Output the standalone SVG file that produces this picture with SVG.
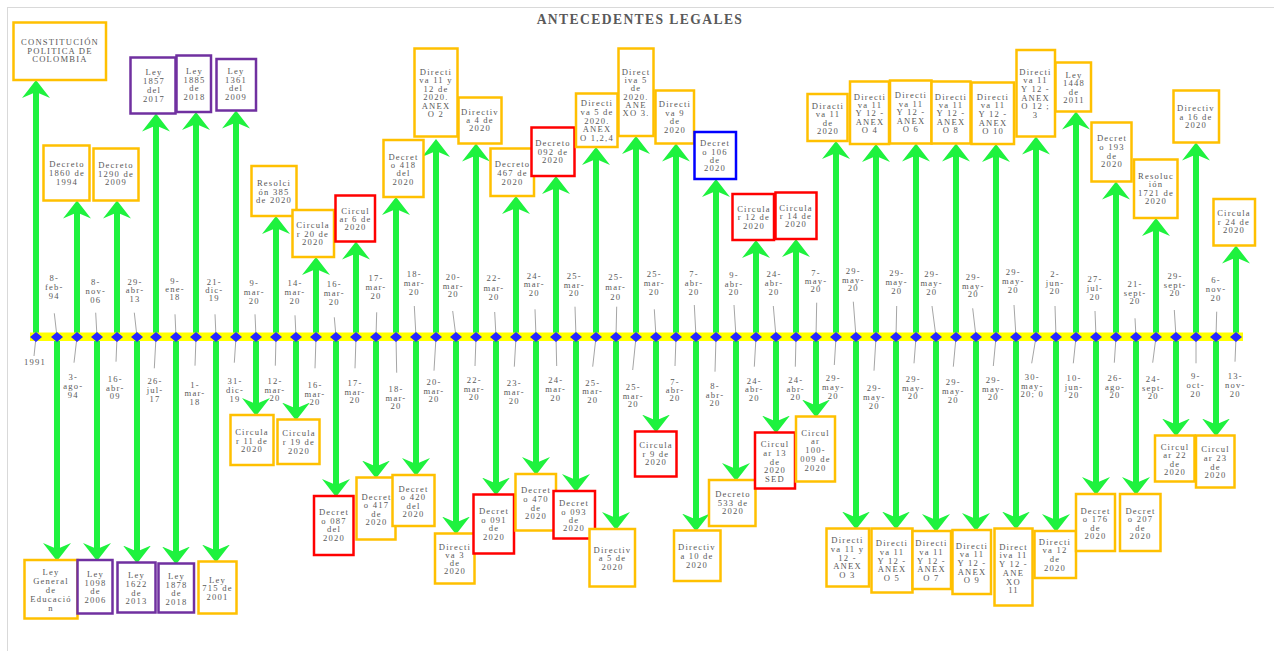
<svg xmlns="http://www.w3.org/2000/svg" width="1274" height="651" viewBox="0 0 1274 651">
<defs>
<marker id="ah" viewBox="0 0 18 28" markerWidth="18" markerHeight="28" markerUnits="userSpaceOnUse" refX="9" refY="14" orient="auto"><path d="M0,0 L18,14 L0,28 L6,14 Z" fill="#1ef23e"/></marker>
<style>
.cn line{stroke:#1ef23e;stroke-width:6;marker-end:url(#ah)}
.ld{stroke:#a6a6a6;stroke-width:1}
.dm{fill:#2626ff}
.bx{fill:#fff;stroke-width:2.5}
.o{stroke:#ffc000}.p{stroke:#7030a0}.r{stroke:#ff0000}.b{stroke:#0000ff}
text{font-family:"Liberation Serif","Times New Roman",serif;fill:#595959;text-anchor:middle}
.tx,.dl{font-size:8.6px;letter-spacing:1.2px}
.ttl{font-size:13.6px;font-weight:bold;letter-spacing:1.4px}
</style>
</defs>
<rect x="0" y="0" width="1274" height="651" fill="#fff"/>
<rect x="7.5" y="7.5" width="1290" height="660" fill="none" stroke="#d9d9d9" stroke-width="1"/>
<text class="ttl" x="640" y="24">ANTECEDENTES LEGALES</text>

<g id="connectors" class="cn">
<line x1="36" y1="337" x2="36" y2="89"/>
<line x1="57" y1="337" x2="57" y2="552"/>
<line x1="77" y1="337" x2="77" y2="209.5"/>
<line x1="97" y1="337" x2="97" y2="552"/>
<line x1="117" y1="337" x2="117" y2="209.5"/>
<line x1="137" y1="337" x2="137" y2="554.5"/>
<line x1="156" y1="337" x2="156" y2="122.5"/>
<line x1="176" y1="337" x2="176" y2="555.5"/>
<line x1="196" y1="337" x2="196" y2="121"/>
<line x1="216" y1="337" x2="216" y2="553.5"/>
<line x1="236" y1="337" x2="236" y2="119.5"/>
<line x1="256" y1="337" x2="256" y2="407"/>
<line x1="276" y1="337" x2="276" y2="225"/>
<line x1="296" y1="337" x2="296" y2="411.5"/>
<line x1="316" y1="337" x2="316" y2="266"/>
<line x1="336" y1="337" x2="336" y2="488"/>
<line x1="356" y1="337" x2="356" y2="250.5"/>
<line x1="376" y1="337" x2="376" y2="469.5"/>
<line x1="396" y1="337" x2="396" y2="206"/>
<line x1="416" y1="337" x2="416" y2="467"/>
<line x1="436" y1="337" x2="436" y2="148"/>
<line x1="456" y1="337" x2="456" y2="525.5"/>
<line x1="476" y1="337" x2="476" y2="152.5"/>
<line x1="496" y1="337" x2="496" y2="486.5"/>
<line x1="516" y1="337" x2="516" y2="205"/>
<line x1="536" y1="337" x2="536" y2="466"/>
<line x1="556" y1="337" x2="556" y2="185"/>
<line x1="576" y1="337" x2="576" y2="483"/>
<line x1="596" y1="337" x2="596" y2="156"/>
<line x1="616" y1="337" x2="616" y2="521"/>
<line x1="636" y1="337" x2="636" y2="145"/>
<line x1="656" y1="337" x2="656" y2="423.5"/>
<line x1="676" y1="337" x2="676" y2="152.5"/>
<line x1="696" y1="337" x2="696" y2="522.5"/>
<line x1="716" y1="337" x2="716" y2="188"/>
<line x1="736" y1="337" x2="736" y2="472"/>
<line x1="756" y1="337" x2="756" y2="249"/>
<line x1="776" y1="337" x2="776" y2="424.5"/>
<line x1="796" y1="337" x2="796" y2="248"/>
<line x1="816" y1="337" x2="816" y2="408.5"/>
<line x1="836" y1="337" x2="836" y2="150"/>
<line x1="856" y1="337" x2="856" y2="520.5"/>
<line x1="876" y1="337" x2="876" y2="153"/>
<line x1="896" y1="337" x2="896" y2="520.5"/>
<line x1="916" y1="337" x2="916" y2="152.5"/>
<line x1="936" y1="337" x2="936" y2="523"/>
<line x1="956" y1="337" x2="956" y2="152.5"/>
<line x1="976" y1="337" x2="976" y2="522"/>
<line x1="996" y1="337" x2="996" y2="153"/>
<line x1="1016" y1="337" x2="1016" y2="520.5"/>
<line x1="1036" y1="337" x2="1036" y2="145.5"/>
<line x1="1056" y1="337" x2="1056" y2="523"/>
<line x1="1076" y1="337" x2="1076" y2="120.5"/>
<line x1="1096" y1="337" x2="1096" y2="486"/>
<line x1="1116" y1="337" x2="1116" y2="190.5"/>
<line x1="1136" y1="337" x2="1136" y2="486"/>
<line x1="1156" y1="337" x2="1156" y2="227"/>
<line x1="1176" y1="337" x2="1176" y2="427.5"/>
<line x1="1196" y1="337" x2="1196" y2="151.5"/>
<line x1="1216" y1="337" x2="1216" y2="427.5"/>
<line x1="1236" y1="337" x2="1236" y2="254.5"/>
</g>

<g id="timeline">
<rect x="30" y="332.5" width="1213" height="8.5" fill="#ffff00"/>
<g class="ld">
<line x1="36" y1="337" x2="34" y2="356"/>
<line x1="57" y1="337" x2="54.3" y2="313.3"/>
<line x1="77" y1="337" x2="74" y2="362.7"/>
<line x1="97" y1="337" x2="95.7" y2="312.7"/>
<line x1="117" y1="337" x2="116" y2="361.7"/>
<line x1="137" y1="337" x2="134.3" y2="312.7"/>
<line x1="156" y1="337" x2="154.3" y2="368.3"/>
<line x1="176" y1="337" x2="175" y2="314.3"/>
<line x1="196" y1="337" x2="195" y2="365.7"/>
<line x1="216" y1="337" x2="215" y2="314.3"/>
<line x1="236" y1="337" x2="234.3" y2="362.7"/>
<line x1="256" y1="337" x2="255" y2="314.3"/>
<line x1="276" y1="337" x2="275.3" y2="365.7"/>
<line x1="296" y1="337" x2="295" y2="315.3"/>
<line x1="316" y1="337" x2="315" y2="368.3"/>
<line x1="336" y1="337" x2="334.3" y2="317.3"/>
<line x1="356" y1="337" x2="355" y2="368.3"/>
<line x1="376" y1="337" x2="376.7" y2="312.3"/>
<line x1="396" y1="337" x2="396.7" y2="372.7"/>
<line x1="416" y1="337" x2="414.3" y2="306"/>
<line x1="436" y1="337" x2="434" y2="370.7"/>
<line x1="456" y1="337" x2="452.7" y2="311"/>
<line x1="476" y1="337" x2="475" y2="366"/>
<line x1="496" y1="337" x2="494.7" y2="312"/>
<line x1="516" y1="337" x2="514.3" y2="366.7"/>
<line x1="536" y1="337" x2="535" y2="309.3"/>
<line x1="556" y1="337" x2="556.7" y2="366"/>
<line x1="576" y1="337" x2="575" y2="306.7"/>
<line x1="596" y1="337" x2="592.7" y2="366.7"/>
<line x1="616" y1="337" x2="616.7" y2="306.7"/>
<line x1="636" y1="337" x2="632.7" y2="370"/>
<line x1="656" y1="337" x2="654.3" y2="309.3"/>
<line x1="676" y1="337" x2="675" y2="366"/>
<line x1="696" y1="337" x2="694.3" y2="305"/>
<line x1="716" y1="337" x2="715" y2="371.7"/>
<line x1="736" y1="337" x2="734" y2="305"/>
<line x1="756" y1="337" x2="754.3" y2="366.7"/>
<line x1="776" y1="337" x2="773.3" y2="306"/>
<line x1="796" y1="337" x2="795.3" y2="366.7"/>
<line x1="816" y1="337" x2="816.7" y2="302.7"/>
<line x1="836" y1="337" x2="834.3" y2="365"/>
<line x1="856" y1="337" x2="853.3" y2="301.7"/>
<line x1="876" y1="337" x2="874" y2="370.7"/>
<line x1="896" y1="337" x2="896.7" y2="306"/>
<line x1="916" y1="337" x2="914" y2="363.3"/>
<line x1="936" y1="337" x2="932" y2="306"/>
<line x1="956" y1="337" x2="953.3" y2="366.7"/>
<line x1="976" y1="337" x2="972.7" y2="308.3"/>
<line x1="996" y1="337" x2="993.3" y2="366"/>
<line x1="1016" y1="337" x2="1014" y2="305"/>
<line x1="1036" y1="337" x2="1031.7" y2="363.3"/>
<line x1="1056" y1="337" x2="1055" y2="306"/>
<line x1="1076" y1="337" x2="1073.3" y2="363.3"/>
<line x1="1096" y1="337" x2="1095" y2="311"/>
<line x1="1116" y1="337" x2="1114.3" y2="362.7"/>
<line x1="1136" y1="337" x2="1135" y2="318.3"/>
<line x1="1156" y1="337" x2="1152.7" y2="362.7"/>
<line x1="1176" y1="337" x2="1174.3" y2="310"/>
<line x1="1196" y1="337" x2="1196" y2="363.3"/>
<line x1="1216" y1="337" x2="1216.7" y2="311.7"/>
<line x1="1236" y1="337" x2="1235" y2="361.7"/>
</g>
<g class="dm">
<path d="M30,337l6,-5l6,5l-6,5zM51,337l6,-5l6,5l-6,5zM71,337l6,-5l6,5l-6,5zM91,337l6,-5l6,5l-6,5zM111,337l6,-5l6,5l-6,5zM131,337l6,-5l6,5l-6,5zM150,337l6,-5l6,5l-6,5zM170,337l6,-5l6,5l-6,5zM190,337l6,-5l6,5l-6,5zM210,337l6,-5l6,5l-6,5z"/>
<path d="M230,337l6,-5l6,5l-6,5zM250,337l6,-5l6,5l-6,5zM270,337l6,-5l6,5l-6,5zM290,337l6,-5l6,5l-6,5zM310,337l6,-5l6,5l-6,5zM330,337l6,-5l6,5l-6,5zM350,337l6,-5l6,5l-6,5zM370,337l6,-5l6,5l-6,5zM390,337l6,-5l6,5l-6,5zM410,337l6,-5l6,5l-6,5z"/>
<path d="M430,337l6,-5l6,5l-6,5zM450,337l6,-5l6,5l-6,5zM470,337l6,-5l6,5l-6,5zM490,337l6,-5l6,5l-6,5zM510,337l6,-5l6,5l-6,5zM530,337l6,-5l6,5l-6,5zM550,337l6,-5l6,5l-6,5zM570,337l6,-5l6,5l-6,5zM590,337l6,-5l6,5l-6,5zM610,337l6,-5l6,5l-6,5z"/>
<path d="M630,337l6,-5l6,5l-6,5zM650,337l6,-5l6,5l-6,5zM670,337l6,-5l6,5l-6,5zM690,337l6,-5l6,5l-6,5zM710,337l6,-5l6,5l-6,5zM730,337l6,-5l6,5l-6,5zM750,337l6,-5l6,5l-6,5zM770,337l6,-5l6,5l-6,5zM790,337l6,-5l6,5l-6,5zM810,337l6,-5l6,5l-6,5z"/>
<path d="M830,337l6,-5l6,5l-6,5zM850,337l6,-5l6,5l-6,5zM870,337l6,-5l6,5l-6,5zM890,337l6,-5l6,5l-6,5zM910,337l6,-5l6,5l-6,5zM930,337l6,-5l6,5l-6,5zM950,337l6,-5l6,5l-6,5zM970,337l6,-5l6,5l-6,5zM990,337l6,-5l6,5l-6,5zM1010,337l6,-5l6,5l-6,5z"/>
<path d="M1030,337l6,-5l6,5l-6,5zM1050,337l6,-5l6,5l-6,5zM1070,337l6,-5l6,5l-6,5zM1090,337l6,-5l6,5l-6,5zM1110,337l6,-5l6,5l-6,5zM1130,337l6,-5l6,5l-6,5zM1150,337l6,-5l6,5l-6,5zM1170,337l6,-5l6,5l-6,5zM1190,337l6,-5l6,5l-6,5zM1210,337l6,-5l6,5l-6,5zM1230,337l6,-5l6,5l-6,5z"/>
</g>
<g id="dates">
<text class="dl" x="35" y="364.7">1991</text>
<text class="dl" y="281.3"><tspan x="54.3">8-</tspan><tspan x="54.3" dy="8.8">feb-</tspan><tspan x="54.3" dy="8.8">94</tspan></text>
<text class="dl" y="380.3"><tspan x="73.3">3-</tspan><tspan x="73.3" dy="8.8">ago-</tspan><tspan x="73.3" dy="8.8">94</tspan></text>
<text class="dl" y="285.3"><tspan x="95.7">8-</tspan><tspan x="95.7" dy="8.8">nov-</tspan><tspan x="95.7" dy="8.8">06</tspan></text>
<text class="dl" y="382"><tspan x="115.3">16-</tspan><tspan x="115.3" dy="8.6">abr-</tspan><tspan x="115.3" dy="8.6">09</tspan></text>
<text class="dl" y="284.7"><tspan x="135">29-</tspan><tspan x="135" dy="8.4">abr-</tspan><tspan x="135" dy="8.4">13</tspan></text>
<text class="dl" y="384"><tspan x="155">26-</tspan><tspan x="155" dy="9.2">jul-</tspan><tspan x="155" dy="9.2">17</tspan></text>
<text class="dl" y="283.7"><tspan x="175">9-</tspan><tspan x="175" dy="8.3">ene-</tspan><tspan x="175" dy="8.3">18</tspan></text>
<text class="dl" y="388"><tspan x="195">1-</tspan><tspan x="195" dy="8.4">mar-</tspan><tspan x="195" dy="8.4">18</tspan></text>
<text class="dl" y="284.7"><tspan x="214.3">21-</tspan><tspan x="214.3" dy="8.3">dic-</tspan><tspan x="214.3" dy="8.3">19</tspan></text>
<text class="dl" y="383.7"><tspan x="235">31-</tspan><tspan x="235" dy="9">dic-</tspan><tspan x="235" dy="9">19</tspan></text>
<text class="dl" y="285.7"><tspan x="254.3">9-</tspan><tspan x="254.3" dy="9">mar-</tspan><tspan x="254.3" dy="9">20</tspan></text>
<text class="dl" y="384"><tspan x="275">12-</tspan><tspan x="275" dy="8.5">mar-</tspan><tspan x="275" dy="8.5">20</tspan></text>
<text class="dl" y="286.3"><tspan x="295">14-</tspan><tspan x="295" dy="8.7">mar-</tspan><tspan x="295" dy="8.7">20</tspan></text>
<text class="dl" y="388"><tspan x="315">16-</tspan><tspan x="315" dy="8.7">mar-</tspan><tspan x="315" dy="8.7">20</tspan></text>
<text class="dl" y="287"><tspan x="334.3">16-</tspan><tspan x="334.3" dy="9.2">mar-</tspan><tspan x="334.3" dy="9.2">20</tspan></text>
<text class="dl" y="386.3"><tspan x="355">17-</tspan><tspan x="355" dy="8.5">mar-</tspan><tspan x="355" dy="8.5">20</tspan></text>
<text class="dl" y="281.3"><tspan x="376">17-</tspan><tspan x="376" dy="8.8">mar-</tspan><tspan x="376" dy="8.8">20</tspan></text>
<text class="dl" y="392"><tspan x="396">18-</tspan><tspan x="396" dy="8.5">mar-</tspan><tspan x="396" dy="8.5">20</tspan></text>
<text class="dl" y="277"><tspan x="414.3">18-</tspan><tspan x="414.3" dy="8.8">mar-</tspan><tspan x="414.3" dy="8.8">20</tspan></text>
<text class="dl" y="384.7"><tspan x="434">20-</tspan><tspan x="434" dy="8.8">mar-</tspan><tspan x="434" dy="8.8">20</tspan></text>
<text class="dl" y="279.7"><tspan x="453.3">20-</tspan><tspan x="453.3" dy="8.8">mar-</tspan><tspan x="453.3" dy="8.8">20</tspan></text>
<text class="dl" y="383"><tspan x="474.3">22-</tspan><tspan x="474.3" dy="8.7">mar-</tspan><tspan x="474.3" dy="8.7">20</tspan></text>
<text class="dl" y="281.3"><tspan x="494">22-</tspan><tspan x="494" dy="9.2">mar-</tspan><tspan x="494" dy="9.2">20</tspan></text>
<text class="dl" y="385.7"><tspan x="514.3">23-</tspan><tspan x="514.3" dy="9">mar-</tspan><tspan x="514.3" dy="9">20</tspan></text>
<text class="dl" y="278.7"><tspan x="534.3">24-</tspan><tspan x="534.3" dy="8.5">mar-</tspan><tspan x="534.3" dy="8.5">20</tspan></text>
<text class="dl" y="383"><tspan x="555.7">24-</tspan><tspan x="555.7" dy="9">mar-</tspan><tspan x="555.7" dy="9">20</tspan></text>
<text class="dl" y="279"><tspan x="574.3">25-</tspan><tspan x="574.3" dy="8.7">mar-</tspan><tspan x="574.3" dy="8.7">20</tspan></text>
<text class="dl" y="385.7"><tspan x="592.7">25-</tspan><tspan x="592.7" dy="8.7">mar-</tspan><tspan x="592.7" dy="8.7">20</tspan></text>
<text class="dl" y="280.3"><tspan x="615.7">25-</tspan><tspan x="615.7" dy="9.7">mar-</tspan><tspan x="615.7" dy="9.7">20</tspan></text>
<text class="dl" y="390"><tspan x="633.3">25-</tspan><tspan x="633.3" dy="8.7">mar-</tspan><tspan x="633.3" dy="8.7">20</tspan></text>
<text class="dl" y="277.3"><tspan x="654.3">25-</tspan><tspan x="654.3" dy="8.7">mar-</tspan><tspan x="654.3" dy="8.7">20</tspan></text>
<text class="dl" y="384.7"><tspan x="675">7-</tspan><tspan x="675" dy="8.3">abr-</tspan><tspan x="675" dy="8.3">20</tspan></text>
<text class="dl" y="277.3"><tspan x="694">7-</tspan><tspan x="694" dy="8.7">abr-</tspan><tspan x="694" dy="8.7">20</tspan></text>
<text class="dl" y="389"><tspan x="715">8-</tspan><tspan x="715" dy="8.7">abr-</tspan><tspan x="715" dy="8.7">20</tspan></text>
<text class="dl" y="278"><tspan x="734">9-</tspan><tspan x="734" dy="8.7">abr-</tspan><tspan x="734" dy="8.7">20</tspan></text>
<text class="dl" y="383.7"><tspan x="754.3">24-</tspan><tspan x="754.3" dy="8.7">abr-</tspan><tspan x="754.3" dy="8.7">20</tspan></text>
<text class="dl" y="277.3"><tspan x="774">24-</tspan><tspan x="774" dy="8.7">abr-</tspan><tspan x="774" dy="8.7">20</tspan></text>
<text class="dl" y="383"><tspan x="795.7">24-</tspan><tspan x="795.7" dy="8.7">abr-</tspan><tspan x="795.7" dy="8.7">20</tspan></text>
<text class="dl" y="275.7"><tspan x="816">7-</tspan><tspan x="816" dy="8.2">may-</tspan><tspan x="816" dy="8.2">20</tspan></text>
<text class="dl" y="381.3"><tspan x="833.3">29-</tspan><tspan x="833.3" dy="8.7">may-</tspan><tspan x="833.3" dy="8.7">20</tspan></text>
<text class="dl" y="273.7"><tspan x="853.3">29-</tspan><tspan x="853.3" dy="8.8">may-</tspan><tspan x="853.3" dy="8.8">20</tspan></text>
<text class="dl" y="391.3"><tspan x="874.3">29-</tspan><tspan x="874.3" dy="8.8">may-</tspan><tspan x="874.3" dy="8.8">20</tspan></text>
<text class="dl" y="276.3"><tspan x="896.7">29-</tspan><tspan x="896.7" dy="8.8">may-</tspan><tspan x="896.7" dy="8.8">20</tspan></text>
<text class="dl" y="382"><tspan x="913.3">29-</tspan><tspan x="913.3" dy="8.5">may-</tspan><tspan x="913.3" dy="8.5">20</tspan></text>
<text class="dl" y="277.3"><tspan x="931.7">29-</tspan><tspan x="931.7" dy="8.7">may-</tspan><tspan x="931.7" dy="8.7">20</tspan></text>
<text class="dl" y="385.3"><tspan x="953.3">29-</tspan><tspan x="953.3" dy="8.8">may-</tspan><tspan x="953.3" dy="8.8">20</tspan></text>
<text class="dl" y="279.7"><tspan x="973.3">29-</tspan><tspan x="973.3" dy="8.8">may-</tspan><tspan x="973.3" dy="8.8">20</tspan></text>
<text class="dl" y="383"><tspan x="993.3">29-</tspan><tspan x="993.3" dy="8.7">may-</tspan><tspan x="993.3" dy="8.7">20</tspan></text>
<text class="dl" y="275.3"><tspan x="1013.3">29-</tspan><tspan x="1013.3" dy="8.8">may-</tspan><tspan x="1013.3" dy="8.8">20</tspan></text>
<text class="dl" y="380.3"><tspan x="1032.3">30-</tspan><tspan x="1032.3" dy="8.5">may-</tspan><tspan x="1032.3" dy="8.5">20; 0</tspan></text>
<text class="dl" y="277.3"><tspan x="1055">2-</tspan><tspan x="1055" dy="8.4">jun-</tspan><tspan x="1055" dy="8.4">20</tspan></text>
<text class="dl" y="381.3"><tspan x="1074">10-</tspan><tspan x="1074" dy="8.5">jun-</tspan><tspan x="1074" dy="8.5">20</tspan></text>
<text class="dl" y="282"><tspan x="1095">27-</tspan><tspan x="1095" dy="9.2">jul-</tspan><tspan x="1095" dy="9.2">20</tspan></text>
<text class="dl" y="381.3"><tspan x="1115">26-</tspan><tspan x="1115" dy="8.5">ago-</tspan><tspan x="1115" dy="8.5">20</tspan></text>
<text class="dl" y="287.3"><tspan x="1135">21-</tspan><tspan x="1135" dy="8.4">sept-</tspan><tspan x="1135" dy="8.4">20</tspan></text>
<text class="dl" y="382"><tspan x="1153.3">24-</tspan><tspan x="1153.3" dy="8.5">sept-</tspan><tspan x="1153.3" dy="8.5">20</tspan></text>
<text class="dl" y="279"><tspan x="1175">29-</tspan><tspan x="1175" dy="8.7">sept-</tspan><tspan x="1175" dy="8.7">20</tspan></text>
<text class="dl" y="379"><tspan x="1195.7">9-</tspan><tspan x="1195.7" dy="9">oct-</tspan><tspan x="1195.7" dy="9">20</tspan></text>
<text class="dl" y="283"><tspan x="1216">6-</tspan><tspan x="1216" dy="8.8">nov-</tspan><tspan x="1216" dy="8.8">20</tspan></text>
<text class="dl" y="379"><tspan x="1235.3">13-</tspan><tspan x="1235.3" dy="9">nov-</tspan><tspan x="1235.3" dy="9">20</tspan></text>
</g>
</g>

<!-- upper documents -->
<g id="n-constitucion"><rect class="bx o" x="13.5" y="22.5" width="92.5" height="57.5"/><text class="tx" y="45"><tspan x="60">CONSTITUCIÓN</tspan><tspan x="60" dy="8.5">POLITICA DE</tspan><tspan x="60" dy="8.5">COLOMBIA</tspan></text></g>
<g id="n-decreto-1860"><rect class="bx o" x="43.5" y="145.5" width="46" height="55"/><text class="tx" y="167"><tspan x="67">Decreto</tspan><tspan x="67" dy="9">1860 de</tspan><tspan x="67" dy="9">1994</tspan></text></g>
<g id="n-decreto-1290"><rect class="bx o" x="93.5" y="148.5" width="45" height="52"/><text class="tx" y="168"><tspan x="116">Decreto</tspan><tspan x="116" dy="8.5">1290 de</tspan><tspan x="116" dy="8.5">2009</tspan></text></g>
<g id="n-ley-1857"><rect class="bx p" x="130.5" y="57.5" width="45" height="56"/><text class="tx" y="75"><tspan x="154">Ley</tspan><tspan x="154" dy="9">1857</tspan><tspan x="154" dy="9">del</tspan><tspan x="154" dy="9">2017</tspan></text></g>
<g id="n-ley-1885"><rect class="bx p" x="176.5" y="55.5" width="34.5" height="56.5"/><text class="tx" y="74"><tspan x="194.5">Ley</tspan><tspan x="194.5" dy="8.7">1885</tspan><tspan x="194.5" dy="8.7">de</tspan><tspan x="194.5" dy="8.7">2018</tspan></text></g>
<g id="n-ley-1361"><rect class="bx p" x="216.5" y="59" width="39.5" height="51.5"/><text class="tx" y="74"><tspan x="236">Ley</tspan><tspan x="236" dy="8.7">1361</tspan><tspan x="236" dy="8.7">del</tspan><tspan x="236" dy="8.7">2009</tspan></text></g>
<g id="n-resolucion-385"><rect class="bx o" x="251.5" y="166" width="45" height="50"/><text class="tx" y="186"><tspan x="274">Resolci</tspan><tspan x="274" dy="8.5">ón 385</tspan><tspan x="274" dy="8.5">de 2020</tspan></text></g>
<g id="n-circular-20"><rect class="bx o" x="292.5" y="210" width="41.5" height="47"/><text class="tx" y="228"><tspan x="313">Circula</tspan><tspan x="313" dy="8.5">r 20 de</tspan><tspan x="313" dy="8.5">2020</tspan></text></g>
<g id="n-circular-6"><rect class="bx r" x="335.5" y="195.5" width="39.5" height="46"/><text class="tx" y="213.7"><tspan x="355.5">Circul</tspan><tspan x="355.5" dy="8.3">ar 6 de</tspan><tspan x="355.5" dy="8.3">2020</tspan></text></g>
<g id="n-decreto-418"><rect class="bx o" x="383.5" y="140" width="40" height="57"/><text class="tx" y="159.7"><tspan x="403.5">Decret</tspan><tspan x="403.5" dy="8.3">o 418</tspan><tspan x="403.5" dy="8.3">del</tspan><tspan x="403.5" dy="8.3">2020</tspan></text></g>
<g id="n-directiva-11-12-anexo2"><rect class="bx o" x="414.5" y="48.5" width="43" height="88"/><text class="tx" y="74.7"><tspan x="436">Directi</tspan><tspan x="436" dy="8.5">va 11 y</tspan><tspan x="436" dy="8.5">12 de</tspan><tspan x="436" dy="8.5">2020.</tspan><tspan x="436" dy="8.5">ANEX</tspan><tspan x="436" dy="8.5">O 2</tspan></text></g>
<g id="n-directiva-4"><rect class="bx o" x="458.5" y="97.5" width="43" height="46"/><text class="tx" y="114.7"><tspan x="480">Directiv</tspan><tspan x="480" dy="8.3">a 4 de</tspan><tspan x="480" dy="8.3">2020</tspan></text></g>
<g id="n-decreto-467"><rect class="bx o" x="490.5" y="148.5" width="43.5" height="47.5"/><text class="tx" y="166.7"><tspan x="512.5">Decreto</tspan><tspan x="512.5" dy="9">467 de</tspan><tspan x="512.5" dy="9">2020</tspan></text></g>
<g id="n-decreto-092"><rect class="bx r" x="531.5" y="127.5" width="43" height="48.5"/><text class="tx" y="146.3"><tspan x="553">Decreto</tspan><tspan x="553" dy="8.5">092 de</tspan><tspan x="553" dy="8.5">2020</tspan></text></g>
<g id="n-directiva-5-anexo124"><rect class="bx o" x="576" y="93.5" width="41.5" height="53.5"/><text class="tx" y="105.7"><tspan x="597">Directi</tspan><tspan x="597" dy="8.9">va 5 de</tspan><tspan x="597" dy="8.9">2020.</tspan><tspan x="597" dy="8.9">ANEX</tspan><tspan x="597" dy="8.9">O 1,2,4</tspan></text></g>
<g id="n-directiva-5-anexo3"><rect class="bx o" x="618.5" y="48.5" width="35" height="87.5"/><text class="tx" y="74.7"><tspan x="636">Direct</tspan><tspan x="636" dy="8.3">iva 5</tspan><tspan x="636" dy="8.3">de</tspan><tspan x="636" dy="8.3">2020.</tspan><tspan x="636" dy="8.3">ANE</tspan><tspan x="636" dy="8.3">XO 3.</tspan></text></g>
<g id="n-directiva-9"><rect class="bx o" x="655.5" y="90.5" width="38.5" height="53"/><text class="tx" y="107.3"><tspan x="675">Directi</tspan><tspan x="675" dy="8.5">va 9</tspan><tspan x="675" dy="8.5">de</tspan><tspan x="675" dy="8.5">2020</tspan></text></g>
<g id="n-decreto-106"><rect class="bx b" x="694.5" y="132" width="41.5" height="47"/><text class="tx" y="146.3"><tspan x="715">Decret</tspan><tspan x="715" dy="8.3">o 106</tspan><tspan x="715" dy="8.3">de</tspan><tspan x="715" dy="8.3">2020</tspan></text></g>
<g id="n-circular-12"><rect class="bx r" x="732.5" y="194" width="41.5" height="46"/><text class="tx" y="212"><tspan x="754">Circula</tspan><tspan x="754" dy="8.3">r 12 de</tspan><tspan x="754" dy="8.3">2020</tspan></text></g>
<g id="n-circular-14"><rect class="bx r" x="775.5" y="192.5" width="41" height="46.5"/><text class="tx" y="210.7"><tspan x="796">Circula</tspan><tspan x="796" dy="8.3">r 14 de</tspan><tspan x="796" dy="8.3">2020</tspan></text></g>
<g id="n-directiva-11"><rect class="bx o" x="807.5" y="94" width="40" height="47"/><text class="tx" y="109"><tspan x="828">Diracti</tspan><tspan x="828" dy="8.3">va 11</tspan><tspan x="828" dy="8.3">de</tspan><tspan x="828" dy="8.3">2020</tspan></text></g>
<g id="n-anexo-4"><rect class="bx o" x="850" y="81.5" width="39" height="62.5"/><text class="tx" y="99.7"><tspan x="870">Directi</tspan><tspan x="870" dy="8.3">va 11</tspan><tspan x="870" dy="8.3">Y 12 -</tspan><tspan x="870" dy="8.3">ANEX</tspan><tspan x="870" dy="8.3">O 4</tspan></text></g>
<g id="n-anexo-6"><rect class="bx o" x="890" y="80.5" width="41.5" height="63"/><text class="tx" y="98"><tspan x="911">Directi</tspan><tspan x="911" dy="8.5">va 11</tspan><tspan x="911" dy="8.5">Y 12 -</tspan><tspan x="911" dy="8.5">ANEX</tspan><tspan x="911" dy="8.5">O 6</tspan></text></g>
<g id="n-anexo-8"><rect class="bx o" x="931.5" y="81.5" width="39" height="62"/><text class="tx" y="99.7"><tspan x="951">Directi</tspan><tspan x="951" dy="8.3">va 11</tspan><tspan x="951" dy="8.3">Y 12 -</tspan><tspan x="951" dy="8.3">ANEX</tspan><tspan x="951" dy="8.3">O 8</tspan></text></g>
<g id="n-anexo-10"><rect class="bx o" x="971.5" y="82.5" width="42.5" height="61.5"/><text class="tx" y="99.7"><tspan x="993">Directi</tspan><tspan x="993" dy="8.6">va 11</tspan><tspan x="993" dy="8.6">Y 12 -</tspan><tspan x="993" dy="8.6">ANEX</tspan><tspan x="993" dy="8.6">O 10</tspan></text></g>
<g id="n-anexo-12-3"><rect class="bx o" x="1016.5" y="50" width="38.5" height="86.5"/><text class="tx" y="74.7"><tspan x="1035.5">Directi</tspan><tspan x="1035.5" dy="8.6">va 11</tspan><tspan x="1035.5" dy="8.6">Y 12 -</tspan><tspan x="1035.5" dy="8.6">ANEX</tspan><tspan x="1035.5" dy="8.6">O 12 ;</tspan><tspan x="1035.5" dy="8.6">3</tspan></text></g>
<g id="n-ley-1448"><rect class="bx o" x="1055.5" y="62.5" width="35.5" height="49"/><text class="tx" y="77.7"><tspan x="1074">Ley</tspan><tspan x="1074" dy="8.4">1448</tspan><tspan x="1074" dy="8.4">de</tspan><tspan x="1074" dy="8.4">2011</tspan></text></g>
<g id="n-decreto-193"><rect class="bx o" x="1091.5" y="122.5" width="40" height="59"/><text class="tx" y="141.3"><tspan x="1112">Decret</tspan><tspan x="1112" dy="8.7">o 193</tspan><tspan x="1112" dy="8.7">de</tspan><tspan x="1112" dy="8.7">2020</tspan></text></g>
<g id="n-resolucion-1721"><rect class="bx o" x="1134" y="159.5" width="43.5" height="58.5"/><text class="tx" y="178.7"><tspan x="1156">Resoluc</tspan><tspan x="1156" dy="8.5">ión</tspan><tspan x="1156" dy="8.5">1721 de</tspan><tspan x="1156" dy="8.5">2020</tspan></text></g>
<g id="n-directiva-16"><rect class="bx o" x="1173.5" y="90.5" width="45.5" height="52"/><text class="tx" y="111.3"><tspan x="1196">Directiv</tspan><tspan x="1196" dy="8.5">a 16 de</tspan><tspan x="1196" dy="8.5">2020</tspan></text></g>
<g id="n-circular-24"><rect class="bx o" x="1213.5" y="199" width="41.5" height="46.5"/><text class="tx" y="216.3"><tspan x="1234">Circula</tspan><tspan x="1234" dy="8.4">r 24 de</tspan><tspan x="1234" dy="8.4">2020</tspan></text></g>

<!-- lower documents -->
<g id="n-ley-general"><rect class="bx o" x="24.5" y="560" width="53" height="58.5"/><text class="tx" y="575.3"><tspan x="51">Ley</tspan><tspan x="51" dy="8.8">General</tspan><tspan x="51" dy="8.8">de</tspan><tspan x="51" dy="8.8">Educació</tspan><tspan x="51" dy="8.8">n</tspan></text></g>
<g id="n-ley-1098"><rect class="bx p" x="77.5" y="560" width="35" height="53.5"/><text class="tx" y="577"><tspan x="95.5">Ley</tspan><tspan x="95.5" dy="8.7">1098</tspan><tspan x="95.5" dy="8.7">de</tspan><tspan x="95.5" dy="8.7">2006</tspan></text></g>
<g id="n-ley-1622"><rect class="bx p" x="117.5" y="562.5" width="38" height="50"/><text class="tx" y="578.3"><tspan x="136.5">Ley</tspan><tspan x="136.5" dy="8.6">1622</tspan><tspan x="136.5" dy="8.6">de</tspan><tspan x="136.5" dy="8.6">2013</tspan></text></g>
<g id="n-ley-1878"><rect class="bx p" x="158.5" y="563.5" width="35.5" height="49"/><text class="tx" y="579"><tspan x="176.5">Ley</tspan><tspan x="176.5" dy="8.7">1878</tspan><tspan x="176.5" dy="8.7">de</tspan><tspan x="176.5" dy="8.7">2018</tspan></text></g>
<g id="n-ley-715"><rect class="bx o" x="198.5" y="561.5" width="38" height="52"/><text class="tx" y="583"><tspan x="217.5">Ley</tspan><tspan x="217.5" dy="8.3">715 de</tspan><tspan x="217.5" dy="8.3">2001</tspan></text></g>
<g id="n-circular-11"><rect class="bx o" x="230.5" y="415" width="43" height="50"/><text class="tx" y="434.7"><tspan x="252">Circula</tspan><tspan x="252" dy="8.8">r 11 de</tspan><tspan x="252" dy="8.8">2020</tspan></text></g>
<g id="n-circular-19"><rect class="bx o" x="277.5" y="419.5" width="42" height="44.5"/><text class="tx" y="436.3"><tspan x="299">Circula</tspan><tspan x="299" dy="8.7">r 19 de</tspan><tspan x="299" dy="8.7">2020</tspan></text></g>
<g id="n-decreto-087"><rect class="bx r" x="314" y="496" width="39.5" height="59"/><text class="tx" y="515.3"><tspan x="334">Decret</tspan><tspan x="334" dy="8.5">o 087</tspan><tspan x="334" dy="8.5">del</tspan><tspan x="334" dy="8.5">2020</tspan></text></g>
<g id="n-decreto-417"><rect class="bx o" x="356.5" y="477.5" width="39" height="62"/><text class="tx" y="499.7"><tspan x="376.5">Decret</tspan><tspan x="376.5" dy="8.4">o 417</tspan><tspan x="376.5" dy="8.4">de</tspan><tspan x="376.5" dy="8.4">2020</tspan></text></g>
<g id="n-decreto-420"><rect class="bx o" x="392.5" y="475" width="42" height="51"/><text class="tx" y="491.7"><tspan x="413.5">Decret</tspan><tspan x="413.5" dy="8.4">o 420</tspan><tspan x="413.5" dy="8.4">del</tspan><tspan x="413.5" dy="8.4">2020</tspan></text></g>
<g id="n-directiva-3"><rect class="bx o" x="435" y="533.5" width="39.5" height="50"/><text class="tx" y="549.7"><tspan x="455">Directi</tspan><tspan x="455" dy="8.2">va 3</tspan><tspan x="455" dy="8.2">de</tspan><tspan x="455" dy="8.2">2020</tspan></text></g>
<g id="n-decreto-091"><rect class="bx r" x="473.5" y="494.5" width="40.5" height="59"/><text class="tx" y="514"><tspan x="494">Decret</tspan><tspan x="494" dy="8.6">o 091</tspan><tspan x="494" dy="8.6">de</tspan><tspan x="494" dy="8.6">2020</tspan></text></g>
<g id="n-decreto-470"><rect class="bx o" x="515.5" y="474" width="40.5" height="56.5"/><text class="tx" y="493.3"><tspan x="536">Decret</tspan><tspan x="536" dy="8.6">o 470</tspan><tspan x="536" dy="8.6">de</tspan><tspan x="536" dy="8.6">2020</tspan></text></g>
<g id="n-decreto-093"><rect class="bx r" x="553.5" y="491" width="41.5" height="47.5"/><text class="tx" y="506.3"><tspan x="574">Decret</tspan><tspan x="574" dy="8.2">o 093</tspan><tspan x="574" dy="8.2">de</tspan><tspan x="574" dy="8.2">2020</tspan></text></g>
<g id="n-directiva-5"><rect class="bx o" x="589.5" y="529" width="45.5" height="57.5"/><text class="tx" y="553"><tspan x="612.5">Directiv</tspan><tspan x="612.5" dy="8.4">a 5 de</tspan><tspan x="612.5" dy="8.4">2020</tspan></text></g>
<g id="n-circular-9"><rect class="bx r" x="635" y="431.5" width="41.5" height="45"/><text class="tx" y="448"><tspan x="656">Circula</tspan><tspan x="656" dy="8.6">r 9 de</tspan><tspan x="656" dy="8.6">2020</tspan></text></g>
<g id="n-directiva-10"><rect class="bx o" x="674" y="530.5" width="46.5" height="50.5"/><text class="tx" y="550"><tspan x="697">Directiv</tspan><tspan x="697" dy="9">a 10 de</tspan><tspan x="697" dy="9">2020</tspan></text></g>
<g id="n-decreto-533"><rect class="bx o" x="709" y="480" width="46.5" height="46"/><text class="tx" y="497.3"><tspan x="733">Decreto</tspan><tspan x="733" dy="8.4">533 de</tspan><tspan x="733" dy="8.4">2020</tspan></text></g>
<g id="n-circular-13"><rect class="bx r" x="755" y="432.5" width="40" height="56"/><text class="tx" y="447.3"><tspan x="775">Circul</tspan><tspan x="775" dy="8.6">ar 13</tspan><tspan x="775" dy="8.6">de</tspan><tspan x="775" dy="8.6">2020</tspan><tspan x="775" dy="8.6">SED</tspan></text></g>
<g id="n-circular-100-009"><rect class="bx o" x="796" y="416.5" width="39" height="65"/><text class="tx" y="435.7"><tspan x="815.5">Circul</tspan><tspan x="815.5" dy="8.7">ar</tspan><tspan x="815.5" dy="8.7">100-</tspan><tspan x="815.5" dy="8.7">009 de</tspan><tspan x="815.5" dy="8.7">2020</tspan></text></g>
<g id="n-anexo-3"><rect class="bx o" x="826.5" y="528.5" width="42.5" height="58"/><text class="tx" y="543"><tspan x="847.5">Directi</tspan><tspan x="847.5" dy="8.75">va 11 y</tspan><tspan x="847.5" dy="8.75">12 -</tspan><tspan x="847.5" dy="8.75">ANEX</tspan><tspan x="847.5" dy="8.75">O 3</tspan></text></g>
<g id="n-anexo-5"><rect class="bx o" x="871.5" y="528.5" width="41" height="64"/><text class="tx" y="546.3"><tspan x="892">Directi</tspan><tspan x="892" dy="8.6">va 11</tspan><tspan x="892" dy="8.6">Y 12 -</tspan><tspan x="892" dy="8.6">ANEX</tspan><tspan x="892" dy="8.6">O 5</tspan></text></g>
<g id="n-anexo-7"><rect class="bx o" x="912.5" y="531" width="38.5" height="58"/><text class="tx" y="546.3"><tspan x="931.5">Directi</tspan><tspan x="931.5" dy="8.6">va 11</tspan><tspan x="931.5" dy="8.6">Y 12 -</tspan><tspan x="931.5" dy="8.6">ANEX</tspan><tspan x="931.5" dy="8.6">O 7</tspan></text></g>
<g id="n-anexo-9"><rect class="bx o" x="952.5" y="530" width="38.5" height="64"/><text class="tx" y="548.7"><tspan x="972">Directi</tspan><tspan x="972" dy="8.6">va 11</tspan><tspan x="972" dy="8.6">Y 12 -</tspan><tspan x="972" dy="8.6">ANEX</tspan><tspan x="972" dy="8.6">O 9</tspan></text></g>
<g id="n-anexo-11"><rect class="bx o" x="994.5" y="528.5" width="38" height="77"/><text class="tx" y="549.7"><tspan x="1013.5">Direct</tspan><tspan x="1013.5" dy="8.7">iva 11</tspan><tspan x="1013.5" dy="8.7">Y 12 -</tspan><tspan x="1013.5" dy="8.7">ANE</tspan><tspan x="1013.5" dy="8.7">XO</tspan><tspan x="1013.5" dy="8.7">11</tspan></text></g>
<g id="n-directiva-12"><rect class="bx o" x="1034.5" y="531" width="41.5" height="47"/><text class="tx" y="544.7"><tspan x="1055">Directi</tspan><tspan x="1055" dy="8.7">va 12</tspan><tspan x="1055" dy="8.7">de</tspan><tspan x="1055" dy="8.7">2020</tspan></text></g>
<g id="n-decreto-176"><rect class="bx o" x="1076" y="494" width="39" height="57"/><text class="tx" y="513.7"><tspan x="1095.5">Decret</tspan><tspan x="1095.5" dy="8.4">o 176</tspan><tspan x="1095.5" dy="8.4">de</tspan><tspan x="1095.5" dy="8.4">2020</tspan></text></g>
<g id="n-decreto-207"><rect class="bx o" x="1120" y="494" width="40.5" height="57"/><text class="tx" y="513.7"><tspan x="1140.5">Decret</tspan><tspan x="1140.5" dy="8.4">o 207</tspan><tspan x="1140.5" dy="8.4">de</tspan><tspan x="1140.5" dy="8.4">2020</tspan></text></g>
<g id="n-circular-22"><rect class="bx o" x="1155" y="435.5" width="39.5" height="46"/><text class="tx" y="449.7"><tspan x="1175">Circul</tspan><tspan x="1175" dy="8.5">ar 22</tspan><tspan x="1175" dy="8.5">de</tspan><tspan x="1175" dy="8.5">2020</tspan></text></g>
<g id="n-circular-23"><rect class="bx o" x="1196" y="435.5" width="38.5" height="52"/><text class="tx" y="452.3"><tspan x="1215.5">Circul</tspan><tspan x="1215.5" dy="8.6">ar 23</tspan><tspan x="1215.5" dy="8.6">de</tspan><tspan x="1215.5" dy="8.6">2020</tspan></text></g>
</svg>
